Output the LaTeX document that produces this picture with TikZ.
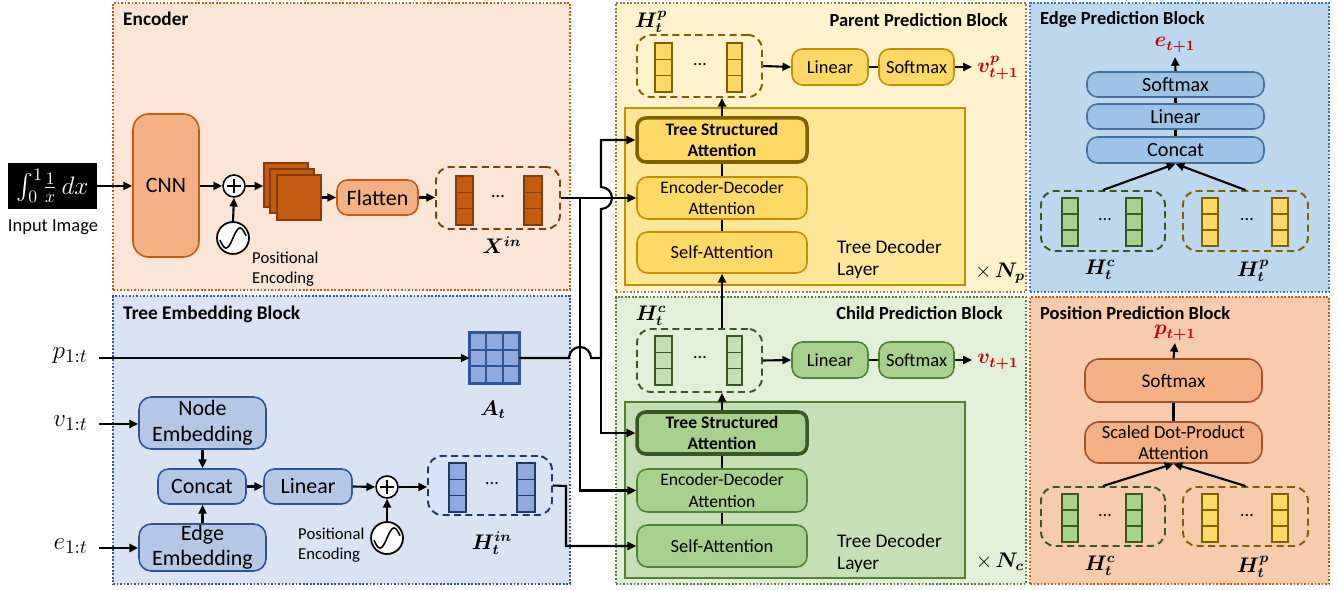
\documentclass[tikz,border=0pt]{standalone}
\usepackage[no-math]{fontspec}
\setmainfont{Carlito}
\usepackage{amsmath}
\usepackage{bm}
\usetikzlibrary{arrows.meta,fit,calc}
\definecolor{encF}{HTML}{FBE5D6}
\definecolor{encD}{HTML}{C55A11}
\definecolor{orgF}{HTML}{F4B183}
\definecolor{orgD}{HTML}{C55A11}
\definecolor{featF}{HTML}{C55A11}
\definecolor{featD}{HTML}{843C0C}
\definecolor{teF}{HTML}{DAE3F3}
\definecolor{teD}{HTML}{2F5597}
\definecolor{bluF}{HTML}{B4C7E7}
\definecolor{bluD}{HTML}{2F5597}
\definecolor{hinF}{HTML}{8FAADC}
\definecolor{hinD}{HTML}{203864}
\definecolor{parF}{HTML}{FFF2CC}
\definecolor{parD}{HTML}{8C7A46}
\definecolor{ylayF}{HTML}{FFE699}
\definecolor{ylayD}{HTML}{BF9000}
\definecolor{ymodF}{HTML}{FFD966}
\definecolor{ymodD}{HTML}{BF9000}
\definecolor{ydark}{HTML}{7F6000}
\definecolor{chF}{HTML}{E2F0D9}
\definecolor{chD}{HTML}{548235}
\definecolor{glayF}{HTML}{C5E0B4}
\definecolor{gmodF}{HTML}{A9D18E}
\definecolor{gdark}{HTML}{385723}
\definecolor{edF}{HTML}{BDD7EE}
\definecolor{edD}{HTML}{2E75B6}
\definecolor{emodF}{HTML}{9DC3E6}
\definecolor{emodD}{HTML}{41719C}
\definecolor{posF}{HTML}{F8CBAD}
\definecolor{posD}{HTML}{C55A11}
\definecolor{pmodD}{HTML}{A0522D}
\definecolor{redlab}{HTML}{C00000}
\newcommand\fs[2]{\fontsize{#1}{#2}\selectfont}
\newcommand\cellstack[6]{%
  \pgfmathsetmacro\cellh{(#4-#2)/3}%
  \foreach \k in {0,1,2}{\draw[draw=#6,fill=#5,line width=0.9pt] (#1,{#2+\k*\cellh}) rectangle (#3,{#2+(\k+1)*\cellh});}}
% box node from pixel corners: [options]{name}{x1}{y1}{x2}{y2}{text}
\newcommand\boxnode[7][]{%
  \pgfmathsetmacro\bxc{(#3+#5)/2}\pgfmathsetmacro\byc{(#4+#6)/2}%
  \pgfmathsetmacro\bxw{(#5-#3)*0.02}\pgfmathsetmacro\bxh{(#6-#4)*0.02}%
  \node[#1, minimum width=\bxw cm, minimum height=\bxh cm] (#2) at (\bxc,\byc) {#7};}
\newcommand\sinewave[1]{%
  \draw[line width=0.9pt, shift={(#1)}] plot[domain=-13:13, samples=40, smooth] ({\x},{-10*sin(\x*180/14)});}
\begin{document}
\begin{tikzpicture}[x=0.02cm,y=-0.02cm,
  every node/.style={font=\fs{10.5}{12}},
  block/.style={line width=1pt, dash pattern=on 1pt off 1pt, inner sep=0pt},
  mod/.style={rounded corners=4pt, line width=0.9pt, align=center, inner sep=0pt},
  tsa/.style={rounded corners=5pt, line width=2pt, align=center, inner sep=0pt, font=\bfseries\fs{10}{12}},
  layer/.style={line width=1pt, inner sep=0pt},
  vbox/.style={dashed, dash pattern=on 4pt off 2.5pt, line width=1.1pt, rounded corners=8pt, inner sep=0pt},
  title/.style={font=\bfseries\fs{10.5}{12}},
  arr/.style={-{Triangle[length=5pt,width=4.5pt]}, line width=1.2pt},
  ln/.style={line width=1.2pt},
  plusc/.style={circle, draw, fill=white, line width=0.9pt, minimum size=0.44cm, inner sep=0pt},
  sinec/.style={circle, draw, fill=white, line width=1pt, minimum size=0.64cm, inner sep=0pt},
  mlab/.style={font=\fs{12}{14}},
  ilab/.style={font=\fs{15}{17}},
  rlab/.style={font=\fs{12}{14}, text=redlab},
  pelab/.style={anchor=west, align=left, font=\fs{9.5}{11}}
]
\useasboundingbox (0,0) rectangle (1338,590);

% ---------------- blocks
\node[block, fill=encF, draw=encD, fit={(113,3) (570,290)}] (enc) {};
\node[block, fill=teF, draw=teD, fit={(113,296) (570,584)}] (temb) {};
\node[block, fill=parF, draw=parD, fit={(616,3) (1026,292)}] (par) {};
\node[block, fill=chF, draw=chD, fit={(616,297) (1026,584)}] (chi) {};
\node[block, fill=edF, draw=edD, fit={(1030,3) (1329,292)}] (edg) {};
\node[block, fill=posF, draw=posD, fit={(1030,297) (1329,584)}] (pos) {};

\node[title, anchor=west, font=\bfseries\fs{11}{13}] (encT) at (117,19) {Encoder};
\node[title, anchor=west, font=\bfseries\fs{11}{13}] (tembT) at (117,314) {Tree Embedding Block};
\node[title, anchor=east] (parT) at (1014,20) {Parent Prediction Block};
\node[title, anchor=east] (chiT) at (1009,313) {Child Prediction Block};
\node[title, anchor=west] (edgT) at (1034,20) {Edge Prediction Block};
\node[title, anchor=west] (posT) at (1034,313) {Position Prediction Block};

% ---------------- encoder
\boxnode[fill=black, text=white, inner sep=0pt, font=\fs{14}{15}]{img}{8}{163}{97}{209}{$\int_0^1\!\frac{1}{x}\,dx$}
\node (imgL) at (53,227) {Input Image};
\boxnode[mod, rounded corners=9pt, fill=orgF, draw=orgD, font=\fs{12.5}{14}]{cnn}{133}{114}{199}{257}{CNN}
\node[plusc] (plus1) at (234,186) {};
\draw[line width=0.8pt] ($(plus1)+(-7,0)$) -- ($(plus1)+(7,0)$) ($(plus1)+(0,-7)$) -- ($(plus1)+(0,7)$);
\node[sinec] (sin1) at (233,238) {};
\sinewave{sin1}
\node[pelab] (pe1) at (246,269) {Positional\\Encoding};
\boxnode[fill=featF, draw=featD, line width=0.8pt, inner sep=0pt]{fm1}{264}{163}{308}{207}{}
\boxnode[fill=featF, draw=featD, line width=0.8pt, inner sep=0pt]{fm2}{270}{169}{314}{213}{}
\boxnode[fill=featF, draw=featD, line width=0.8pt, inner sep=0pt]{fm3}{277}{175}{321}{220}{}
\boxnode[mod, rounded corners=6pt, fill=orgF, draw=orgD, font=\fs{12.5}{14}]{flat}{337}{180}{418}{215}{Flatten}
\node[vbox, draw=featD, fit={(436,167) (560,229)}] (xin) {};
\cellstack{456}{176}{473}{225}{featF}{featD}
\cellstack{524}{176}{542}{225}{featF}{featD}
\node (xdots) at (498,197) {\ldots};
\node[mlab] (xinL) at (502,245) {$\bm{X^{in}}$};

\draw[arr] (img.east) -- (img.east -| cnn.west);
\draw[arr] (cnn.east |- plus1) -- (plus1.west);
\draw[arr] (plus1.east) -- (plus1.east -| fm1.west);
\draw[arr] (sin1.north) -- (plus1.south);
\draw[arr] (fm3.east |- flat) -- (flat.west);
\draw[arr] (flat.east) -- (flat.east -| xin.west);

% ---------------- tree embedding
\coordinate (pS) at (99,358);
\coordinate (vS) at (99,424);
\coordinate (eS) at (99,548);
\node[ilab, anchor=east] (pL) at (94,356) {$p_{1:t}$};
\node[ilab, anchor=east] (vL) at (94,423) {$v_{1:t}$};
\node[ilab, anchor=east] (eL) at (94,546) {$e_{1:t}$};
\node[fit={(470,333) (519,383)}, inner sep=0pt] (At) {};
\foreach \i in {0,1,2}{\foreach \j in {0,1,2}{
  \draw[draw=teD, fill=hinF, line width=1pt] ({470+\i*49/3},{333+\j*50/3}) rectangle ({470+(\i+1)*49/3},{333+(\j+1)*50/3});}}
\draw[teD, line width=1.6pt] (At.south west) rectangle (At.north east);
\node[mlab] (AtL) at (493,410) {$\bm{A_t}$};
\boxnode[mod, rounded corners=7pt, fill=bluF, draw=bluD, font=\fs{12.5}{14.5}]{nemb}{139}{397}{266}{449}{Node\\Embedding}
\boxnode[mod, rounded corners=6pt, fill=bluF, draw=bluD, font=\fs{12.5}{14}]{cat}{158}{469}{246}{504}{Concat}
\boxnode[mod, rounded corners=6pt, fill=bluF, draw=bluD, font=\fs{12.5}{14}]{tlin}{264}{469}{352}{504}{Linear}
\boxnode[mod, rounded corners=7pt, fill=bluF, draw=bluD, font=\fs{12.5}{14.5}]{eemb}{139}{524}{266}{571}{Edge\\Embedding}
\node[plusc] (plus2) at (387,487) {};
\draw[line width=0.8pt] ($(plus2)+(-7,0)$) -- ($(plus2)+(7,0)$) ($(plus2)+(0,-7)$) -- ($(plus2)+(0,7)$);
\node[sinec] (sin2) at (387,538) {};
\sinewave{sin2}
\node[pelab] (pe2) at (292,545) {Positional\\Encoding};
\node[vbox, draw=hinD, fit={(428,456) (552,515)}] (hin) {};
\cellstack{449}{463}{466}{512}{hinF}{hinD}
\cellstack{517}{463}{535}{512}{hinF}{hinD}
\node (hdots) at (492,484) {\ldots};
\node[mlab] (hinL) at (492,543) {$\bm{H_t^{in}}$};

\draw[arr] (pS) -- (At.west);
\draw[arr] (vS) -- (vS -| nemb.west);
\draw[arr] (eS) -- (eS -| eemb.west);
\draw[arr] (nemb.south) -- (nemb.south |- cat.north);
\draw[arr] (eemb.north) -- (eemb.north |- cat.south);
\draw[arr] (cat.east) -- (tlin.west);
\draw[arr] (tlin.east) -- (plus2.west);
\draw[arr] (sin2.north) -- (plus2.south);
\draw[arr] (plus2.east) -- (plus2.east -| hin.west);

% ---------------- parent prediction block
\node[mlab] (hpL) at (651,22) {$\bm{H_t^p}$};
\node[vbox, draw=ydark, fit={(637,35) (762,97)}] (hp) {};
\cellstack{655}{43}{672}{92}{ymodF}{ydark}
\cellstack{727}{43}{742}{92}{ymodF}{ydark}
\node (pdots) at (700,65) {\ldots};
\boxnode[mod, rounded corners=6pt, fill=ymodF, draw=ymodD]{plin}{792}{49}{868}{85}{Linear}
\boxnode[mod, rounded corners=6pt, fill=ymodF, draw=ymodD]{psm}{879}{49}{954}{85}{Softmax}
\coordinate (vpE) at (972,67);
\node[rlab] (vpL) at (998,68) {$\bm{v^{p}_{t+1}}$};
\node[layer, fill=ylayF, draw=ylayD, fit={(625,108) (965,285)}] (play) {};
\boxnode[tsa, fill=ymodF, draw=ydark]{pTSA}{637}{118}{807}{162}{Tree Structured\\Attention}
\boxnode[mod, rounded corners=6pt, fill=ymodF, draw=ymodD, font=\fs{10}{12}]{pED}{637}{177}{807}{219}{Encoder-Decoder\\Attention}
\boxnode[mod, rounded corners=6pt, fill=ymodF, draw=ymodD]{pSA}{637}{232}{807}{273}{Self-Attention}
\node[anchor=west, align=left, font=\fs{11}{12.5}] (pTDL) at (831,259) {Tree Decoder\\Layer};
\node[font=\fs{11.5}{13}] (npL) at (1000,273) {$\times\,\bm{N_p}$};

\draw[ln] (pSA.north) -- (pED.south);
\draw[ln] (pED.north) -- (pTSA.south);
\draw[arr] (pTSA.north) -- (pTSA.north |- hp.south);
\draw[arr] (hp.east) -- (plin.west);
\draw[ln] (plin.east) -- (psm.west);
\draw[arr] (psm.east) -- (vpE);

% ---------------- child prediction block
\node[mlab] (hcL) at (651,316) {$\bm{H_t^c}$};
\node[vbox, draw=gdark, fit={(637,329) (762,392)}] (hc) {};
\cellstack{655}{336}{672}{385}{glayF}{gdark}
\cellstack{727}{336}{742}{385}{glayF}{gdark}
\node (cdots) at (700,358) {\ldots};
\boxnode[mod, rounded corners=6pt, fill=gmodF, draw=chD]{clin}{792}{342}{868}{378}{Linear}
\boxnode[mod, rounded corners=6pt, fill=gmodF, draw=chD]{csm}{879}{342}{954}{378}{Softmax}
\coordinate (vcE) at (972,360);
\node[rlab] (vcL) at (998,362) {$\bm{v_{t+1}}$};
\node[layer, fill=glayF, draw=chD, fit={(625,402) (965,578)}] (clay) {};
\boxnode[tsa, fill=gmodF, draw=gdark]{cTSA}{637}{412}{807}{454}{Tree Structured\\Attention}
\boxnode[mod, rounded corners=6pt, fill=gmodF, draw=chD, font=\fs{10}{12}]{cED}{637}{469}{807}{512}{Encoder-Decoder\\Attention}
\boxnode[mod, rounded corners=6pt, fill=gmodF, draw=chD]{cSA}{637}{525}{807}{567}{Self-Attention}
\node[anchor=west, align=left, font=\fs{11}{12.5}] (cTDL) at (831,553) {Tree Decoder\\Layer};
\node[font=\fs{11.5}{13}] (ncL) at (1000,562) {$\times\,\bm{N_c}$};

\draw[ln] (cSA.north) -- (cED.south);
\draw[ln] (cED.north) -- (cTSA.south);
\draw[arr] (cTSA.north) -- (cTSA.north |- hc.south);
\draw[arr] (pSA.south |- hc.north) -- (pSA.south);
\draw[arr] (hc.east) -- (clin.west);
\draw[ln] (clin.east) -- (csm.west);
\draw[arr] (csm.east) -- (vcE);

% ---------------- long connectors
\coordinate (j1) at (580,198);
\coordinate (j2) at (601,358);
\coordinate (j3) at (566,486);
\draw[ln] (xin.east) -- (j1);
\draw[arr] (j1) -- (j1 -| pED.west);
\draw[arr] (j1) |- (cED.west);
\draw[ln] (At.east) -- (569,358) arc[start angle=180, end angle=360, radius=11] -- (j2);
\draw[arr] (j2) -- (601,209) arc[start angle=90, end angle=-90, radius=11] |- (pTSA.west);
\draw[arr] (j2) |- (cTSA.west);
\draw[arr] (hin.east) -- (j3) |- (cSA.west);

% ---------------- edge prediction block
\node[rlab] (etL) at (1175,45) {$\bm{e_{t+1}}$};
\coordinate (etE) at (1175,57);
\boxnode[mod, rounded corners=6pt, fill=emodF, draw=emodD, font=\fs{11.5}{13}]{esm}{1087}{72}{1264}{97}{Softmax}
\boxnode[mod, rounded corners=6pt, fill=emodF, draw=emodD, font=\fs{11.5}{13}]{elin}{1087}{104}{1264}{129}{Linear}
\boxnode[mod, rounded corners=6pt, fill=emodF, draw=emodD, font=\fs{11.5}{13}]{ecat}{1087}{137}{1264}{163}{Concat}
\node[vbox, draw=gdark, fit={(1041,191) (1165,251)}] (hc2) {};
\cellstack{1062}{198}{1078}{246}{gmodF}{gdark}
\cellstack{1126}{198}{1142}{246}{gmodF}{gdark}
\node (d2a) at (1105,220) {\ldots};
\node[vbox, draw=ydark, fit={(1183,191) (1308,251)}] (hp2) {};
\cellstack{1202}{198}{1218}{246}{ymodF}{ydark}
\cellstack{1272}{198}{1288}{246}{ymodF}{ydark}
\node (d2b) at (1247,220) {\ldots};
\node[mlab] (hc2L) at (1100,270) {$\bm{H_t^c}$};
\node[mlab] (hp2L) at (1253,271) {$\bm{H_t^p}$};
\draw[arr] (hc2.north) -- (ecat.south);
\draw[arr] (hp2.north) -- (ecat.south);
\draw[ln] (ecat.north) -- (elin.south);
\draw[ln] (elin.north) -- (esm.south);
\draw[arr] (esm.north) -- (etE);

% ---------------- position prediction block
\node[rlab] (ptL) at (1175,333) {$\bm{p_{t+1}}$};
\coordinate (ptE) at (1175,343);
\boxnode[mod, rounded corners=8pt, fill=orgF, draw=pmodD, font=\fs{11}{13}]{psm2}{1085}{359}{1262}{402}{Softmax}
\boxnode[mod, rounded corners=8pt, fill=orgF, draw=pmodD, font=\fs{10.5}{12}]{sdpa}{1085}{422}{1262}{463}{Scaled Dot-Product\\Attention}
\node[vbox, draw=gdark, fit={(1041,487) (1165,546)}] (hc3) {};
\cellstack{1062}{494}{1078}{542}{gmodF}{gdark}
\cellstack{1126}{494}{1142}{542}{gmodF}{gdark}
\node (d3a) at (1105,516) {\ldots};
\node[vbox, draw=ydark, fit={(1183,487) (1308,546)}] (hp3) {};
\cellstack{1202}{494}{1218}{542}{ymodF}{ydark}
\cellstack{1272}{494}{1288}{542}{ymodF}{ydark}
\node (d3b) at (1247,516) {\ldots};
\node[mlab] (hc3L) at (1100,566) {$\bm{H_t^c}$};
\node[mlab] (hp3L) at (1253,567) {$\bm{H_t^p}$};
\draw[arr] (hc3.north) -- (sdpa.south);
\draw[arr] (hp3.north) -- (sdpa.south);
\draw[ln] (sdpa.north) -- (psm2.south);
\draw[arr] (psm2.north) -- (ptE);
\end{tikzpicture}
\end{document}
